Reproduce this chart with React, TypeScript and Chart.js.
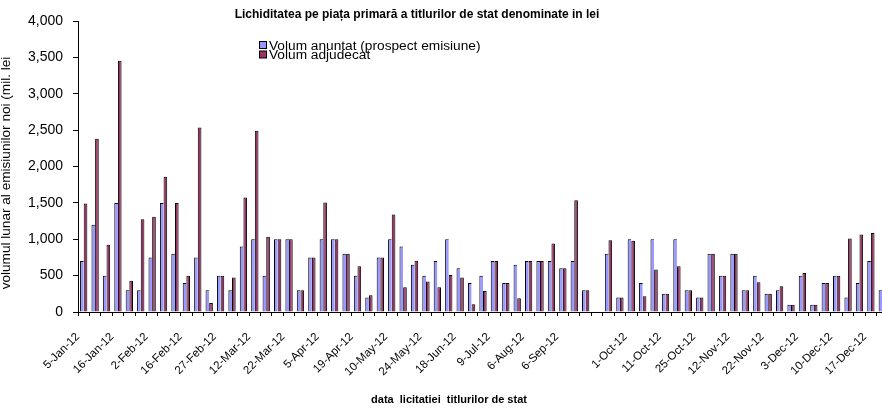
import React, { useEffect, useRef } from "react";
import { Chart, registerables } from "chart.js";

Chart.register(...registerables);

const categories: string[] = [
  "5-Jan-12", "", "", "16-Jan-12", "", "", "2-Feb-12", "", "", "16-Feb-12", "", "",
  "27-Feb-12", "", "", "12-Mar-12", "", "", "22-Mar-12", "", "", "5-Apr-12", "", "",
  "19-Apr-12", "", "", "10-May-12", "", "", "24-May-12", "", "", "18-Jun-12", "", "",
  "9-Jul-12", "", "", "6-Aug-12", "", "", "6-Sep-12", "", "", "", "", "",
  "1-Oct-12", "", "", "11-Oct-12", "", "", "25-Oct-12", "", "", "12-Nov-12", "", "",
  "22-Nov-12", "", "", "3-Dec-12", "", "", "10-Dec-12", "", "", "17-Dec-12", "",
];

const announced: (number | null)[] = [
  700, 1200, 500, 1500, 300, 300, 750, 1500, 800, 400, 750, 300,
  500, 300, 900, 1000, 500, 1000, 1000, 300, 750, 1000, 1000, 800,
  500, 200, 750, 1000, 900, 650, 500, 700, 1000, 600, 400, 500,
  700, 400, 650, 700, 700, 700, 600, 700, 300, null, 800, 200,
  1000, 400, 1000, 250, 1000, 300, 200, 800, 500, 800, 300, 500,
  250, 300, 100, 500, 100, 400, 500, 200, 400, 700, 300,
];

const adjudicated: (number | null)[] = [
  1490, 2380, 925, 3455, 430, 1275, 1310, 1860, 1500, 500, 2535, 125,
  500, 475, 1575, 2490, 1035, 1000, 1000, 300, 750, 1505, 1000, 800,
  630, 230, 750, 1340, 340, 705, 420, 340, 510, 475, 105, 290,
  700, 400, 190, 700, 700, 940, 600, 1535, 300, null, 985, 200,
  980, 215, 585, 250, 630, 300, 200, 800, 500, 800, 300, 410,
  250, 355, 100, 535, 100, 400, 500, 1010, 1065, 1085, 300,
];

const seriesNames = ["Volum anuntat (prospect emisiune)", "Volum adjudecat"];
const seriesColors = ["#9999FF", "#993366"];

const yMin = 0;
const yMax = 4000;
const yStep = 500;

const TITLE = "Lichiditatea pe piața primară a titlurilor de stat denominate in lei";
const X_TITLE = "data  licitatiei  titlurilor de stat";
const Y_TITLE = "volumul lunar al emisiunilor noi (mil. lei";

const FONT = '"Liberation Sans", Arial, sans-serif';

const textPlugin = {
  id: "textPlugin",
  afterDraw(chart: any) {
    const ctx: CanvasRenderingContext2D = chart.ctx;
    ctx.save();
    ctx.fillStyle = "#000";
    ctx.textBaseline = "alphabetic";

    ctx.font = `bold 12px ${FONT}`;
    ctx.textAlign = "center";
    ctx.fillText(TITLE, 417, 18);

    ctx.font = `bold 11px ${FONT}`;
    ctx.fillText(X_TITLE, 449, 403);

    ctx.save();
    ctx.translate(10, 173);
    ctx.rotate(-Math.PI / 2);
    ctx.font = `13.6px ${FONT}`;
    ctx.textAlign = "center";
    ctx.fillText(Y_TITLE, 0, 0);
    ctx.restore();

    ctx.textAlign = "left";
    ctx.font = `13.7px ${FONT}`;
    chart.data.datasets.forEach((ds: any, i: number) => {
      const by = 41.5 + i * 9.5;
      ctx.fillStyle = ds.backgroundColor;
      ctx.fillRect(259.5, by, 7, 7);
      ctx.strokeStyle = "#000";
      ctx.lineWidth = 1;
      ctx.strokeRect(259.5, by, 7, 7);
      ctx.fillStyle = "#000";
      ctx.fillText(ds.label, 269, 49.5 + i * 9.5);
    });
    ctx.restore();
  },
};

export default function App() {
  const canvasRef = useRef<HTMLCanvasElement | null>(null);

  useEffect(() => {
    const canvas = canvasRef.current;
    if (!canvas) return;
    const chart = new Chart(canvas, {
      type: "bar",
      data: {
        labels: categories,
        datasets: [
          {
            label: seriesNames[0],
            data: announced,
            backgroundColor: seriesColors[0],
            borderColor: "#000",
            borderWidth: { top: 1, left: 1, right: 0, bottom: 0 },
            borderSkipped: false,
            categoryPercentage: 0.64,
            barPercentage: 1.0,
          },
          {
            label: seriesNames[1],
            data: adjudicated,
            backgroundColor: seriesColors[1],
            borderColor: "#000",
            borderWidth: { top: 1, left: 1, right: 1, bottom: 0 },
            borderSkipped: false,
            categoryPercentage: 0.64,
            barPercentage: 1.0,
          },
        ],
      },
      options: {
        responsive: false,
        animation: false,
        devicePixelRatio: 1,
        layout: { padding: { top: 21, left: 0, right: 0, bottom: 0 } },
        plugins: {
          legend: { display: false },
          title: { display: false },
          tooltip: { enabled: false },
        },
        scales: {
          x: {
            offset: true,
            grid: {
              offset: true,
              drawOnChartArea: false,
              drawTicks: true,
              tickLength: 4,
              color: "#000",
            },
            border: { display: true, color: "#000", width: 1 },
            ticks: {
              autoSkip: false,
              maxRotation: 45,
              minRotation: 45,
              padding: 14,
              labelOffset: -6,
              color: "#000",
              font: { family: FONT, size: 11.5 },
            },
            afterFit: (scale: any) => {
              scale.height = 97;
              scale.paddingLeft = 0;
              scale.paddingRight = 0;
            },
          },
          y: {
            min: yMin,
            max: yMax,
            grid: {
              drawOnChartArea: false,
              drawTicks: true,
              tickLength: 5,
              color: "#000",
            },
            border: { display: true, color: "#000", width: 1 },
            ticks: {
              stepSize: yStep,
              padding: 10,
              color: "#000",
              font: { family: FONT, size: 14 },
              callback: (v: any) => Number(v).toLocaleString("en-US"),
            },
            afterFit: (scale: any) => {
              scale.width = 78;
            },
          },
        },
      },
      plugins: [textPlugin],
    });
    return () => chart.destroy();
  }, []);

  return (
    <div
      style={{
        position: "fixed",
        left: 0,
        top: 0,
        width: 882,
        height: 409,
        overflow: "hidden",
        background: "#fff",
      }}
    >
      <canvas ref={canvasRef} width={888} height={409} style={{ display: "block" }} />
    </div>
  );
}
